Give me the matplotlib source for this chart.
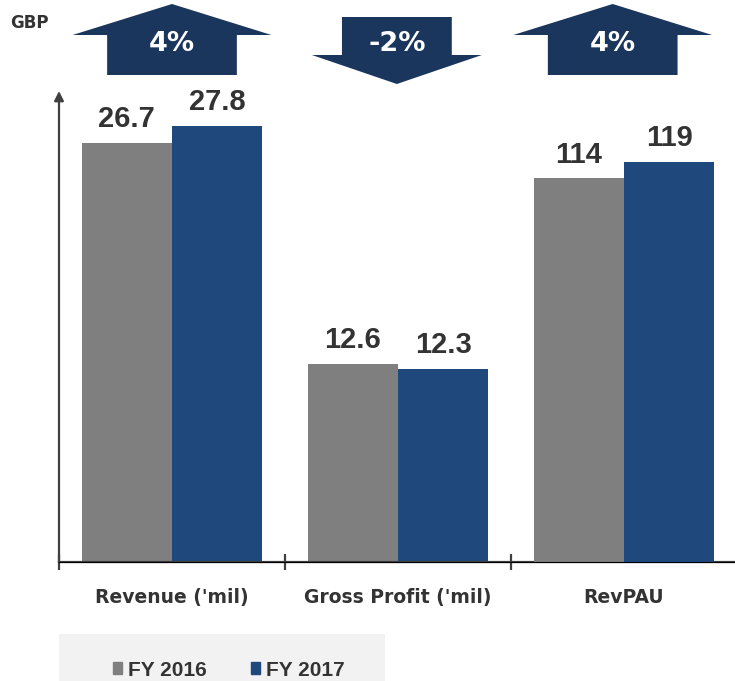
import matplotlib.pyplot as plt
from matplotlib.patches import Polygon, Rectangle
from matplotlib.transforms import blended_transform_factory
from matplotlib import font_manager

categories = ["Revenue ('mil)", "Gross Profit ('mil)", "RevPAU"]
fy2016 = [26.7, 12.6, 114]
fy2017 = [27.8, 12.3, 119]
changes = ['4%', '-2%', '4%']
series_names = ['FY 2016', 'FY 2017']

GRAY = '#7F7F7F'
BLUE = '#1F497D'
NAVY = '#1B365D'
TXT = '#333333'

names = {f.name for f in font_manager.fontManager.ttflist}
num_font = 'Liberation Sans Narrow' if 'Liberation Sans Narrow' in names else 'Liberation Sans'

W, H = 735, 681
fig = plt.figure(figsize=(W / 100, H / 100), dpi=100)
ax = fig.add_axes([59 / W, (H - 562) / H, 678 / W, 471 / H])
ax2 = ax.twinx()
ax.set_xlim(-0.5, 2.5)
ax.set_ylim(0, 30)
ax2.set_ylim(0, 140)

# first two groups share the left scale, RevPAU gets its own
for i in range(3):
    a = ax if i < 2 else ax2
    b1 = a.bar(i - 0.2, fy2016[i], width=0.4, color=GRAY)
    b2 = a.bar(i + 0.2, fy2017[i], width=0.4, color=BLUE)
    for bars, v in ((b1, fy2016[i]), (b2, fy2017[i])):
        r = bars[0]
        lbl = f'{v:g}' if v >= 100 else f'{v:.1f}'
        a.annotate(lbl, (r.get_x() + r.get_width() / 2, r.get_height()),
                   xytext=(0, 7), textcoords='offset points', ha='center', va='bottom',
                   fontsize=21, fontweight='bold', color=TXT, family=num_font)

for a in (ax, ax2):
    for s in ('top', 'right', 'left'):
        a.spines[s].set_visible(False)
ax2.set_yticks([])
ax.set_yticks([])
ax.spines['bottom'].set_color('#404040')
ax.spines['bottom'].set_linewidth(1.6)
ax.set_xticks(range(3))
ax.set_xticklabels(categories, fontsize=13.5, fontweight='bold', color=TXT)
ax.tick_params(axis='x', which='major', length=0, pad=19)
ax.set_xticks([-0.5, 0.5, 1.5], minor=True)
ax.tick_params(axis='x', which='minor', direction='inout', length=12, width=1.6, color='#404040')

# y axis drawn as an arrow
ax.annotate('', xy=(0, 1.0), xytext=(0, 0), xycoords='axes fraction',
            arrowprops=dict(arrowstyle='-|>', color='#404040', lw=1.6, mutation_scale=14,
                            shrinkA=0, shrinkB=0))

fig.text(10 / W, 1 - 23 / H, 'GBP', fontsize=12, fontweight='bold', color=TXT, va='center')

# change arrows above each group
tr = blended_transform_factory(ax.transData, fig.transFigure)
def fy(p):
    return 1 - p / H

arrow_x = [0, 0.995, 1.95]
for x, c in zip(arrow_x, changes):
    if c.startswith('-'):
        hw, sw = 0.376, 0.243
        pts = [(x - sw, fy(17)), (x + sw, fy(17)), (x + sw, fy(55)), (x + hw, fy(55)),
               (x, fy(84)), (x - hw, fy(55)), (x - sw, fy(55))]
    else:
        hw, sw = 0.44, 0.287
        pts = [(x, fy(4)), (x + hw, fy(35)), (x + sw, fy(35)), (x + sw, fy(75)),
               (x - sw, fy(75)), (x - sw, fy(35)), (x - hw, fy(35))]
    fig.patches.append(Polygon(pts, closed=True, transform=tr, facecolor=NAVY,
                               edgecolor='none', figure=fig))
    fig.text(x, fy(44), c, transform=tr, ha='center', va='center', fontsize=19.5,
             fontweight='bold', color='white')

# legend box
fig.patches.append(Rectangle((59 / W, 0), (385 - 59) / W, (H - 634) / H,
                             transform=fig.transFigure, facecolor='#F2F2F2',
                             edgecolor='none', figure=fig))
handles = [Rectangle((0, 0), 1, 1, color=GRAY), Rectangle((0, 0), 1, 1, color=BLUE)]
fig.legend(handles, series_names, loc='center left', bbox_to_anchor=(94 / W, fy(670)),
           ncol=2, frameon=False, handlelength=0.45, handleheight=0.45, handletextpad=0.3,
           columnspacing=2.1, prop=dict(size=15, weight='bold', family=num_font),
           labelcolor=TXT)

fig.savefig('out.png', dpi=100)
